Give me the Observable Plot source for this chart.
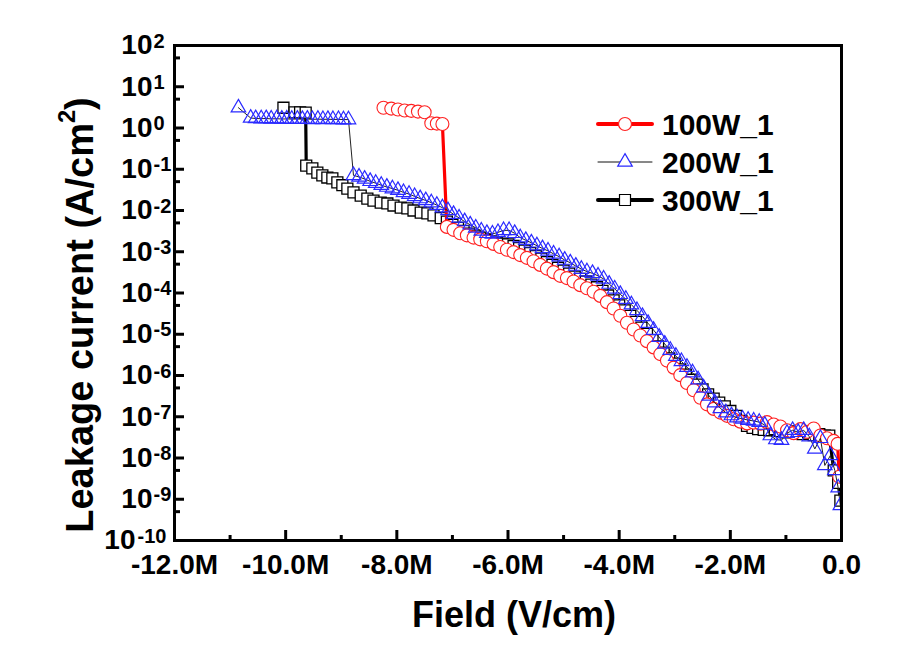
<!DOCTYPE html>
<html><head><meta charset="utf-8">
<script src="https://cdn.jsdelivr.net/npm/d3@7"></script>
<script src="https://cdn.jsdelivr.net/npm/@observablehq/plot@0.6"></script>
<style>
body{margin:0;background:#fff;}
#wrap{position:relative;width:909px;height:650px;font-family:"Liberation Sans",Arial,sans-serif;font-weight:bold;}
#legend{position:absolute;left:590px;top:104px;}
</style></head><body><div id="wrap"></div>
<script>
// ---- data (field in MV/cm, current density in A/cm^2) ----
const seriesNames = ["100W_1", "200W_1", "300W_1"];

const field100 = [-8.24,-8.10,-7.98,-7.86,-7.74,-7.62,-7.50,-7.38,-7.28,-7.18,
  -7.10,-6.98,-6.86,-6.74,-6.62,-6.50,-6.38,-6.26,-6.14,-6.02,-5.90,-5.78,-5.66,-5.54,-5.42,-5.30,-5.18,-5.06,-4.94,-4.82,
  -4.70,-4.58,-4.46,-4.34,-4.22,-4.10,-3.98,-3.86,-3.74,-3.62,-3.50,-3.38,-3.26,-3.14,-3.02,-2.90,-2.78,-2.66,-2.54,-2.42,
  -2.30,-2.18,-2.06,-1.94,-1.82,-1.70,-1.58,-1.46,-1.34,-1.22,-1.10,-0.98,-0.86,-0.74,-0.62,-0.50,-0.38,-0.26,-0.14,-0.07,-0.04];
const current100 = [3.1,2.95,2.8,2.65,2.6,2.5,2.4,1.3,1.28,1.25,
  4.0e-3,3.4e-3,2.8e-3,2.5e-3,2.2e-3,2.0e-3,1.8e-3,1.55e-3,1.3e-3,1.12e-3,9.8e-4,8.3e-4,7.1e-4,5.9e-4,4.8e-4,3.9e-4,3.2e-4,2.6e-4,2.3e-4,1.9e-4,
  1.55e-4,1.3e-4,1.07e-4,8.5e-5,6.0e-5,4.2e-5,2.8e-5,1.9e-5,1.3e-5,9.3e-6,6.8e-6,4.8e-6,3.3e-6,2.3e-6,1.55e-6,1.02e-6,6.6e-7,4.4e-7,2.9e-7,2.0e-7,
  1.55e-7,1.26e-7,1.05e-7,8.7e-8,7.6e-8,6.9e-8,7.2e-8,6.8e-8,7.4e-8,6.5e-8,5.8e-8,4.7e-8,4.0e-8,5.0e-8,4.3e-8,5.2e-8,3.5e-8,3.0e-8,2.6e-8,2.2e-8,3.5e-9];

const field200 = [-10.85,-10.63,-10.54,-10.44,-10.35,-10.26,-10.16,-10.07,-9.98,-9.89,-9.79,-9.70,-9.61,-9.52,-9.42,-9.33,-9.24,-9.15,-9.05,-8.96,-8.87,
  -8.78,-8.68,-8.58,-8.48,-8.38,-8.28,-8.18,-8.08,-7.98,-7.88,-7.78,-7.68,-7.58,-7.48,-7.38,-7.28,-7.18,-7.08,-6.98,-6.88,
  -6.78,-6.68,-6.58,-6.48,-6.38,-6.28,-6.18,-6.08,-5.98,-5.88,-5.78,-5.68,-5.58,-5.48,-5.38,-5.28,-5.18,-5.08,-4.98,-4.88,
  -4.78,-4.68,-4.58,-4.48,-4.38,-4.28,-4.18,-4.08,-3.98,-3.88,-3.78,-3.68,-3.58,-3.48,-3.38,-3.28,-3.18,-3.08,-2.98,-2.88,
  -2.78,-2.68,-2.58,-2.48,-2.38,-2.28,-2.18,-2.08,-1.98,-1.88,-1.78,-1.68,-1.58,-1.48,-1.38,-1.28,-1.18,-1.08,-0.98,-0.88,
  -0.78,-0.68,-0.58,-0.48,-0.38,-0.30,-0.20,-0.12,-0.06,-0.02];
const current200 = [3.1,1.75,1.7,1.68,1.7,1.66,1.68,1.65,1.66,1.64,1.65,1.63,1.65,1.62,1.64,1.62,1.63,1.61,1.62,1.6,1.6,
  7.1e-2,6.5e-2,5.8e-2,5.1e-2,4.6e-2,4.1e-2,3.7e-2,3.4e-2,3.1e-2,2.75e-2,2.5e-2,2.2e-2,1.95e-2,1.75e-2,1.55e-2,1.35e-2,1.17e-2,1.0e-2,8.1e-3,6.6e-3,
  5.4e-3,4.5e-3,3.8e-3,3.2e-3,2.8e-3,2.7e-3,2.95e-3,3.3e-3,3.3e-3,2.8e-3,2.2e-3,1.9e-3,1.65e-3,1.4e-3,1.2e-3,1.05e-3,8.9e-4,7.6e-4,6.3e-4,5.4e-4,
  4.5e-4,3.8e-4,3.3e-4,3.0e-4,2.6e-4,2.2e-4,1.65e-4,1.26e-4,9.3e-5,7.1e-5,5.2e-5,3.8e-5,2.7e-5,1.85e-5,1.26e-5,8.5e-6,5.8e-6,4.1e-6,2.95e-6,2.2e-6,
  1.6e-6,1.17e-6,7.9e-7,5.0e-7,3.2e-7,2.2e-7,1.6e-7,1.26e-7,1.07e-7,9.5e-8,8.9e-8,8.3e-8,7.9e-8,7.4e-8,6.3e-8,3.5e-8,2.8e-8,2.7e-8,4.0e-8,4.7e-8,
  4.2e-8,4.7e-8,3.3e-8,1.66e-8,3.0e-8,6.6e-9,1.15e-8,5.0e-9,1.9e-9,7.1e-10];

const field300 = [-10.04,-9.84,-9.74,-9.64,
  -9.63,-9.52,-9.43,-9.34,-9.25,-9.16,-9.07,-8.98,-8.89,-8.78,-8.65,-8.53,-8.42,-8.29,-8.17,-8.06,-7.93,-7.81,-7.70,-7.57,-7.45,-7.34,-7.21,
  -7.1,-7.0,-6.9,-6.8,-6.7,-6.6,-6.5,-6.4,-6.3,-6.2,-6.1,-6.0,-5.9,-5.8,-5.7,-5.6,-5.5,-5.4,-5.3,-5.2,
  -5.1,-5.0,-4.9,-4.8,-4.7,-4.6,-4.5,-4.4,-4.3,-4.2,-4.1,-4.0,-3.9,-3.8,-3.7,-3.6,-3.5,-3.4,-3.3,-3.2,
  -3.1,-3.0,-2.9,-2.8,-2.7,-2.6,-2.5,-2.4,-2.3,-2.2,-2.1,-2.0,-1.9,-1.8,-1.7,-1.6,-1.5,-1.4,-1.3,-1.2,
  -1.1,-1.0,-0.9,-0.8,-0.7,-0.6,-0.5,-0.4,-0.3,-0.22,-0.14,-0.06,-0.02];
const current300 = [3.1,2.4,2.4,2.35,
  0.123,0.105,0.083,0.071,0.063,0.060,0.048,0.041,0.034,0.0275,0.023,0.0195,0.0174,0.0155,0.0148,0.0132,0.0117,0.0112,0.010,0.0089,0.0085,0.0076,0.0065,
  5.4e-3,4.5e-3,3.8e-3,3.2e-3,2.75e-3,2.45e-3,2.2e-3,1.95e-3,1.78e-3,1.66e-3,1.58e-3,1.51e-3,1.38e-3,1.23e-3,1.07e-3,9.3e-4,7.9e-4,6.8e-4,5.6e-4,4.8e-4,
  4.1e-4,3.5e-4,2.95e-4,2.5e-4,2.2e-4,1.9e-4,1.6e-4,1.38e-4,1.12e-4,8.7e-5,6.6e-5,5.0e-5,3.8e-5,2.8e-5,2.0e-5,1.45e-5,1.02e-5,7.2e-6,5.1e-6,3.6e-6,
  2.6e-6,1.95e-6,1.41e-6,1.05e-6,7.9e-7,6.0e-7,4.6e-7,3.5e-7,2.75e-7,2.2e-7,1.78e-7,1.38e-7,1.05e-7,7.9e-8,6.0e-8,5.4e-8,5.0e-8,4.8e-8,4.7e-8,5.0e-8,
  4.5e-8,4.2e-8,4.4e-8,4.0e-8,3.8e-8,4.2e-8,3.6e-8,3.8e-8,3.5e-8,3.5e-8,5.0e-9,2.5e-9,9.3e-10];

const xMajorTicks = [-12, -10, -8, -6, -4, -2, 0];
const xMinorTicks = [-11, -9, -7, -5, -3, -1];
const yMajorTicks = [1e-10, 1e-9, 1e-8, 1e-7, 1e-6, 1e-5, 1e-4, 1e-3, 1e-2, 1e-1, 1e0, 1e1, 1e2];
const yMinorTicks = [5e-10, 5e-9, 5e-8, 5e-7, 5e-6, 5e-5, 5e-4, 5e-3, 5e-2, 5e-1, 5e0, 5e1];
const xTitle = "Field (V/cm)";
const yTitle = "Leakage current (A/cm2)";

// ---- build tables ----
const toRows = (fx, cy) => fx.map((f, i) => ({field: f, J: cy[i]}));
const rows100 = toRows(field100, current100);
const rows200 = toRows(field200, current200);
const rows300 = toRows(field300, current300);

const FONT = '"Liberation Sans", Arial, Helvetica, sans-serif';
const expOf = d => String(Math.round(Math.log10(d)));
const shortLab = yMajorTicks.filter(d => expOf(d).length <= 2);
const longLab = yMajorTicks.filter(d => expOf(d).length > 2);
const xFmt = d => d === 0 ? "0.0" : `${d.toFixed(1)}M`;

const plot = Plot.plot({
  width: 909, height: 650,
  marginLeft: 174, marginRight: 68, marginTop: 45, marginBottom: 110,
  style: {fontFamily: FONT, fontWeight: "bold", background: "white", overflow: "visible", color: "black"},
  x: {domain: [-12, 0]},
  y: {type: "log", domain: [1e-10, 1e2]},
  marks: [
    // series 300W_1 (bottom layer)
    Plot.line(rows300, {x: "field", y: "J", stroke: "black", strokeWidth: 3.2, clip: true}),
    Plot.dot(rows300, {x: "field", y: "J", symbol: "square", r: 6.2, stroke: "black", fill: "white", strokeWidth: 1.3, clip: true}),
    // series 100W_1
    Plot.line(rows100, {x: "field", y: "J", stroke: "#ff0000", strokeWidth: 3.2, clip: true}),
    Plot.dot(rows100, {x: "field", y: "J", symbol: "circle", r: 6.5, stroke: "#ff2020", fill: "white", strokeWidth: 1.1, clip: true}),
    // series 200W_1
    Plot.line(rows200, {x: "field", y: "J", stroke: "#222", strokeWidth: 1, clip: true}),
    Plot.dot(rows200, {x: "field", y: "J", symbol: "triangle", r: 5.4, stroke: "#2a2aff", fill: "none", strokeWidth: 1.2, clip: true}),
    // frame and ticks
    Plot.frame({stroke: "black", strokeWidth: 3}),
    Plot.axisX(xMinorTicks, {tickSize: -5, strokeWidth: 3, tickFormat: () => "", label: null}),
    Plot.axisX(xMajorTicks, {tickSize: -10, strokeWidth: 3, tickFormat: () => "", label: null}),
    Plot.axisX(xMajorTicks, {tickSize: 0, tickPadding: 14, fontSize: 28, fontWeight: "bold", tickFormat: xFmt, label: null}),
    Plot.axisY(yMinorTicks, {tickSize: -6, strokeWidth: 3, tickFormat: () => "", label: null}),
    Plot.axisY(yMajorTicks, {tickSize: -10, strokeWidth: 3, tickFormat: () => "", label: null}),
    // y tick labels with superscript exponents
    Plot.text(shortLab, {y: d => d, frameAnchor: "left", text: () => "10", textAnchor: "end", lineAnchor: "middle", dx: -22, fontSize: 28, fontWeight: "bold"}),
    Plot.text(shortLab, {y: d => d, frameAnchor: "left", text: expOf, textAnchor: "start", lineAnchor: "top", dx: -21, dy: -12, fontSize: 20, fontWeight: "bold"}),
    Plot.text(longLab, {y: d => d, frameAnchor: "left", text: () => "10", textAnchor: "end", lineAnchor: "middle", dx: -39, fontSize: 28, fontWeight: "bold"}),
    Plot.text(longLab, {y: d => d, frameAnchor: "left", text: expOf, textAnchor: "start", lineAnchor: "top", dx: -37, dy: -12, fontSize: 20, fontWeight: "bold"}),
    // axis titles
    Plot.text([xTitle], {text: d => d, frameAnchor: "bottom", textAnchor: "middle", lineAnchor: "middle", dx: 6, dy: 75, fontSize: 36, fontWeight: "bold"}),
    Plot.text([yTitle], {text: d => d, frameAnchor: "left", textAnchor: "middle", rotate: -90, lineAnchor: "middle", dx: -94, dy: 22, fontSize: 38, fontWeight: "bold"})
  ]
});
const wrap = document.getElementById("wrap");
wrap.appendChild(plot);

// superscript the "2" in the y-axis title (A/cm²)
d3.select(plot).selectAll("text").filter(function() { return this.textContent === yTitle; }).each(function() {
  const t = d3.select(this);
  t.text(null);
  t.append("tspan").text("Leakage current (A/cm");
  t.append("tspan").attr("font-size", "0.62em").attr("dy", "-0.75em").text("2");
  t.append("tspan").attr("dy", "0.46em").text(")");
});

// ---- legend ----
const legendStyles = [
  {stroke: "#ff0000", lw: 4, sym: d3.symbolCircle, r: 6.5, ms: "#ff2020"},
  {stroke: "#111", lw: 1, sym: d3.symbolTriangle, r: 5.4, ms: "#2a2aff"},
  {stroke: "black", lw: 4, sym: d3.symbolSquare, r: 6.2, ms: "black"}
];
const lg = d3.create("svg").attr("id", "legend").attr("width", 220).attr("height", 120)
  .style("font-family", FONT).style("font-weight", "bold").style("overflow", "visible");
seriesNames.forEach((name, i) => {
  const s = legendStyles[i];
  const cy = 20 + i * 38;
  const g = lg.append("g");
  g.append("line").attr("x1", 8).attr("x2", 62).attr("y1", cy).attr("y2", cy)
    .attr("stroke", s.stroke).attr("stroke-width", s.lw).attr("stroke-linecap", "round");
  g.append("path").attr("d", d3.symbol(s.sym, Math.PI * s.r * s.r)())
    .attr("transform", `translate(35,${cy})`).attr("fill", "white").attr("stroke", s.ms).attr("stroke-width", 1.2);
  g.append("text").attr("x", 72).attr("y", cy).attr("dy", "0.35em").attr("font-size", 30).text(name);
});
wrap.appendChild(lg.node());
</script>
</body></html>
